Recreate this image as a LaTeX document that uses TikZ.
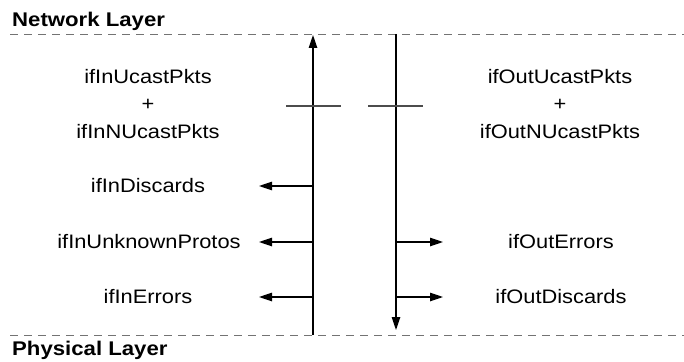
\documentclass[tikz,border=0pt]{standalone}
\usepackage{fontspec}
\setmainfont[FakeStretch=1.12]{Liberation Sans}
\usetikzlibrary{arrows.meta}
\begin{document}
\begin{tikzpicture}[x=1pt,y=-1pt,
  lbl/.style={font=\fontsize{19.5}{23}\selectfont, inner sep=0pt, anchor=center},
  layer/.style={font=\fontsize{19.8}{23}\selectfont\bfseries, inner sep=0pt, anchor=base west},
  boundary/.style={draw=black!55, line width=0.9pt, dash pattern=on 8pt off 6pt},
  flow/.style={draw=black, line width=1.2pt},
  tap/.style={flow, -{Triangle[length=13pt,width=8.5pt]}},
  tick/.style={draw=black!70, line width=1.2pt}]
\useasboundingbox (0,0) rectangle (684,361);

% layer boundaries
\coordinate (netL) at (10,34);   \coordinate (netR) at (684,34);
\coordinate (phyL) at (10,335);  \coordinate (phyR) at (684,335);
\draw[boundary] (netL) -- (netR);
\draw[boundary] (phyL) -- (phyR);
\node[layer] (net) at (12,27) {Network Layer};
\node[layer] (phy) at (12,355) {Physical Layer};

% inbound and outbound paths
\coordinate (inB) at (313,335);  \coordinate (inT) at (313,35);
\coordinate (outT) at (396,34);  \coordinate (outB) at (396,330);
\draw[tap] (inB) -- (inT);
\draw[tap] (outT) -- (outB);

% counter points
\coordinate (inTickL) at (286,106);  \coordinate (inTickR) at (341,106);
\coordinate (outTickL) at (368,106); \coordinate (outTickR) at (423,106);
\draw[tick] (inTickL) -- (inTickR);
\draw[tick] (outTickL) -- (outTickR);

% inbound counters
\node[lbl] (inU)  at (148,77)  {ifInUcastPkts};
\node[lbl] (inP)  at (148,105) {+};
\node[lbl] (inN)  at (148,132) {ifInNUcastPkts};
\node[lbl] (inD)  at (148,186) {ifInDiscards};
\node[lbl] (inUP) at (149,242) {ifInUnknownProtos};
\node[lbl] (inE)  at (148,297) {ifInErrors};

% outbound counters
\node[lbl] (outU) at (560,77)  {ifOutUcastPkts};
\node[lbl] (outP) at (560,105) {+};
\node[lbl] (outN) at (560,132) {ifOutNUcastPkts};
\node[lbl] (outE) at (561,242) {ifOutErrors};
\node[lbl] (outD) at (561,297) {ifOutDiscards};

% branches off the paths
\coordinate (bD) at (313,186);  \coordinate (tD) at (259,186);
\coordinate (bUP) at (313,242); \coordinate (tUP) at (259,242);
\coordinate (bE) at (313,297);  \coordinate (tE) at (259,297);
\coordinate (bOE) at (396,242); \coordinate (tOE) at (443,242);
\coordinate (bOD) at (396,297); \coordinate (tOD) at (443,297);
\draw[tap] (bD) -- (tD);
\draw[tap] (bUP) -- (tUP);
\draw[tap] (bE) -- (tE);
\draw[tap] (bOE) -- (tOE);
\draw[tap] (bOD) -- (tOD);
\end{tikzpicture}
\end{document}
